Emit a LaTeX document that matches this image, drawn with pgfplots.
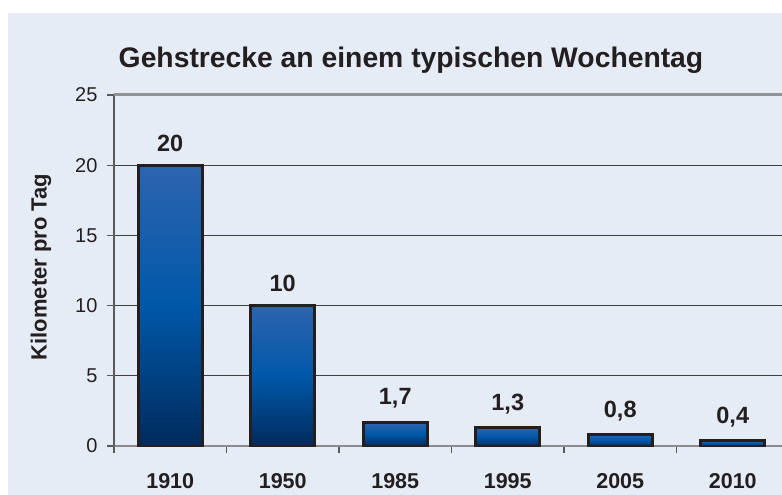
\documentclass[border=0pt]{standalone}
\usepackage{pgfplots}
\pgfplotsset{compat=1.18}
\usepackage{fontspec}
\setmainfont{Liberation Sans}
\definecolor{bg}{RGB}{230,236,246}
\definecolor{txt}{RGB}{35,31,32}
\definecolor{bartop}{RGB}{45,100,175}
\definecolor{barmid}{RGB}{0,88,168}
\definecolor{barbot}{RGB}{0,42,92}
\pgfplotsset{onebar/.style={ybar, bar width=64pt, draw=txt, line width=2.8pt, top color=bartop, bottom color=barbot, middle color=barmid}}
\begin{document}
\begin{tikzpicture}[x=1pt,y=1pt]
\useasboundingbox (0,0) rectangle (782,495);
\fill[white] (0,0) rectangle (782,495);
\fill[bg] (8,0) rectangle (782,482);
\begin{scope}
\clip (0,0) rectangle (782,495);
\begin{axis}[
  at={(114pt,49pt)}, anchor=south west,
  scale only axis, width=675pt, height=351pt,
  xmin=0, xmax=6, ymin=0, ymax=25,
  axis x line*=bottom, axis y line*=left,
  x axis line style={draw=black!45, line width=2pt},
  y axis line style={draw=black!65, line width=1.5pt},
  ytick={0,5,10,15,20}, extra y ticks={25},
  extra y tick style={grid style={draw=black!42, line width=3pt}},
  ymajorgrids, grid style={draw=black!75, line width=1.2pt},
  tick style={draw=black!65, line width=1.3pt},
  tick align=outside, major tick length=7pt,
  xtick={0,...,6}, xticklabels={1910,1950,1985,1995,2005,2010},
  x tick label as interval,
  /pgf/number format/.cd, use comma, fixed, precision=1, assume math mode=true,
  /pgfplots/.cd,
  yticklabel style={font=\fontsize{20}{24}\selectfont, color=txt, xshift=-6pt},
  xticklabel style={font=\bfseries\fontsize{21.5}{26}\selectfont, color=txt, yshift=-17pt},
  title={Gehstrecke an einem typischen Wochentag},
  title style={font=\bfseries\fontsize{28.3}{34}\selectfont, color=txt, at={(axis description cs:0.44,1.062)}, anchor=base},
  ylabel={Kilometer pro Tag},
  ylabel style={font=\bfseries\fontsize{22}{26}\selectfont, color=txt, at={(axis description cs:-0.108,0.51)}, anchor=center},
  nodes near coords,
  nodes near coords style={font=\bfseries\fontsize{23.5}{28}\selectfont, color=txt, yshift=9pt},
  clip=false,
]
\addplot[onebar] coordinates {(0.5,20)};
\addplot[onebar] coordinates {(1.5,10)};
\addplot[onebar] coordinates {(2.5,1.7)};
\addplot[onebar] coordinates {(3.5,1.3)};
\addplot[onebar] coordinates {(4.5,0.8)};
\addplot[onebar] coordinates {(5.5,0.4)};
\end{axis}
\end{scope}
\end{tikzpicture}
\end{document}
